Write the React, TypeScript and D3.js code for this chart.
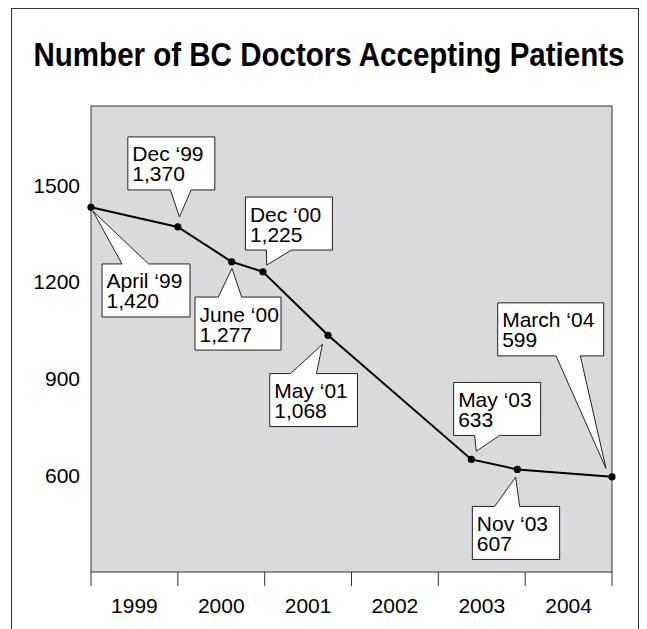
import React from "react";
import * as d3 from "d3";

// ---- Data ----
const dateLabels = ["April \u201899", "Dec \u201899", "June \u201800", "Dec \u201800", "May \u201801", "May \u201803", "Nov \u201803", "March \u201804"];
const valueLabels = ["1,420", "1,370", "1,277", "1,225", "1,068", "633", "607", "599"];
// horizontal position on the year axis, as drawn
const xPositions = [1999.0, 2000.0, 2000.62, 2000.98, 2001.73, 2003.38, 2003.91, 2005.0];
// plotted level, as drawn
const plotted = [1431, 1370, 1262, 1231, 1034, 649, 618, 595];
const yTicks = [600, 900, 1200, 1500];
const years = ["1999", "2000", "2001", "2002", "2003", "2004"];
const yearStart = 1999;
const yearEnd = 2005;
const title = "Number of BC Doctors Accepting Patients";

// ---- Callout layout (pixel offsets relative to each point) ----
type Callout = { dx: number; dy: number; w: number; side: "top" | "bottom"; b0: number; b1: number; tx: number; ty: number };
const callouts: Callout[] = [
  { dx: 11, dy: 56.7, w: 88, side: "top", b0: 20, b1: 46.6, tx: 2, ty: 4 },
  { dx: -50, dy: -90, w: 87, side: "bottom", b0: 42.6, b1: 63.3, tx: 1.6, ty: -10 },
  { dx: -36.7, dy: 35.3, w: 86, side: "top", b0: 23.3, b1: 46.7, tx: 0.3, ty: 6.6 },
  { dx: -17.5, dy: -74.7, w: 87, side: "bottom", b0: 21, b1: 46, tx: 3.8, ty: -6.7 },
  { dx: -58.3, dy: 38.3, w: 87.7, side: "top", b0: 20.7, b1: 46.7, tx: -5.6, ty: 9 },
  { dx: -17.7, dy: -77, w: 87, side: "bottom", b0: 21, b1: 46, tx: 5, ty: -8.3 },
  { dx: -45, dy: 37, w: 87.3, side: "top", b0: 22.3, b1: 47.3, tx: -1.7, ty: 7.7 },
  { dx: -114.3, dy: -174, w: 106, side: "bottom", b0: 58.3, b1: 82.6, tx: -6, ty: -8.4 },
];
const boxH = 53;

const W = 647;
const H = 629;
const plot = { left: 91, right: 612, top: 106, bottom: 572 };
const FONT = "'Liberation Sans', Arial, Helvetica, sans-serif";

export default function App() {
  const x = d3.scaleLinear().domain([yearStart, yearEnd]).range([plot.left, plot.right]);
  const y = d3.scaleLinear().domain([300, 1745]).range([plot.bottom, plot.top]);
  const pts = xPositions.map((xv, i) => [x(xv), y(plotted[i])] as [number, number]);
  const line = d3.line<[number, number]>().x((d) => d[0]).y((d) => d[1]);
  const tickYears = d3.range(yearStart, yearEnd + 1);

  const calloutPath = (i: number) => {
    const c = callouts[i];
    const [px, py] = pts[i];
    const bx = px + c.dx;
    const by = py + c.dy;
    const tx = px + c.tx;
    const ty = py + c.ty;
    if (c.side === "bottom") {
      return `M${bx},${by}H${bx + c.w}V${by + boxH}H${bx + c.b1}L${tx},${ty}L${bx + c.b0},${by + boxH}H${bx}Z`;
    }
    return `M${bx},${by}H${bx + c.b0}L${tx},${ty}L${bx + c.b1},${by}H${bx + c.w}V${by + boxH}H${bx}Z`;
  };

  return (
    <svg width={W} height={H} style={{ position: "absolute", left: 0, top: 0, background: "#fff" }} fontFamily={FONT}>
      <rect x={11.5} y={8.5} width={627} height={640} fill="#fff" stroke="#333" strokeWidth={1} />
      <text
        x={329}
        y={66}
        textAnchor="middle"
        fontFamily="'Liberation Sans Narrow', 'Arial Narrow', 'Liberation Sans', Arial, sans-serif"
        fontWeight="bold"
        fontSize={34}
        textLength={591}
        lengthAdjust="spacingAndGlyphs"
        fill="#000"
      >
        {title}
      </text>
      <rect
        x={plot.left}
        y={plot.top}
        width={plot.right - plot.left}
        height={plot.bottom - plot.top}
        fill="#d9dadc"
        stroke="#333"
        strokeWidth={1}
      />
      {yTicks.map((t) => (
        <text key={t} x={80} y={y(t) + 7.5} textAnchor="end" fontSize={21} fill="#000">
          {t}
        </text>
      ))}
      {tickYears.map((t) => (
        <line key={t} x1={x(t)} x2={x(t)} y1={plot.bottom} y2={plot.bottom + 14} stroke="#333" strokeWidth={1} />
      ))}
      {years.map((yr, i) => (
        <text key={yr} x={x(yearStart + i + 0.5)} y={613} textAnchor="middle" fontSize={21} fill="#000">
          {yr}
        </text>
      ))}
      <path d={line(pts) || ""} fill="none" stroke="#000" strokeWidth={2} />
      {pts.map((p, i) => (
        <circle key={i} cx={p[0]} cy={p[1]} r={3.6} fill="#000" />
      ))}
      {callouts.map((c, i) => {
        const [px, py] = pts[i];
        const bx = px + c.dx;
        const by = py + c.dy;
        return (
          <g key={i}>
            <path d={calloutPath(i)} fill="#fff" stroke="#222" strokeWidth={1} />
            <text x={bx + 4.5} y={by + 24.5} fontSize={21} fill="#000">
              <tspan x={bx + 4.5}>{dateLabels[i]}</tspan>
              <tspan x={bx + 4.5} dy={20}>{valueLabels[i]}</tspan>
            </text>
          </g>
        );
      })}
    </svg>
  );
}
